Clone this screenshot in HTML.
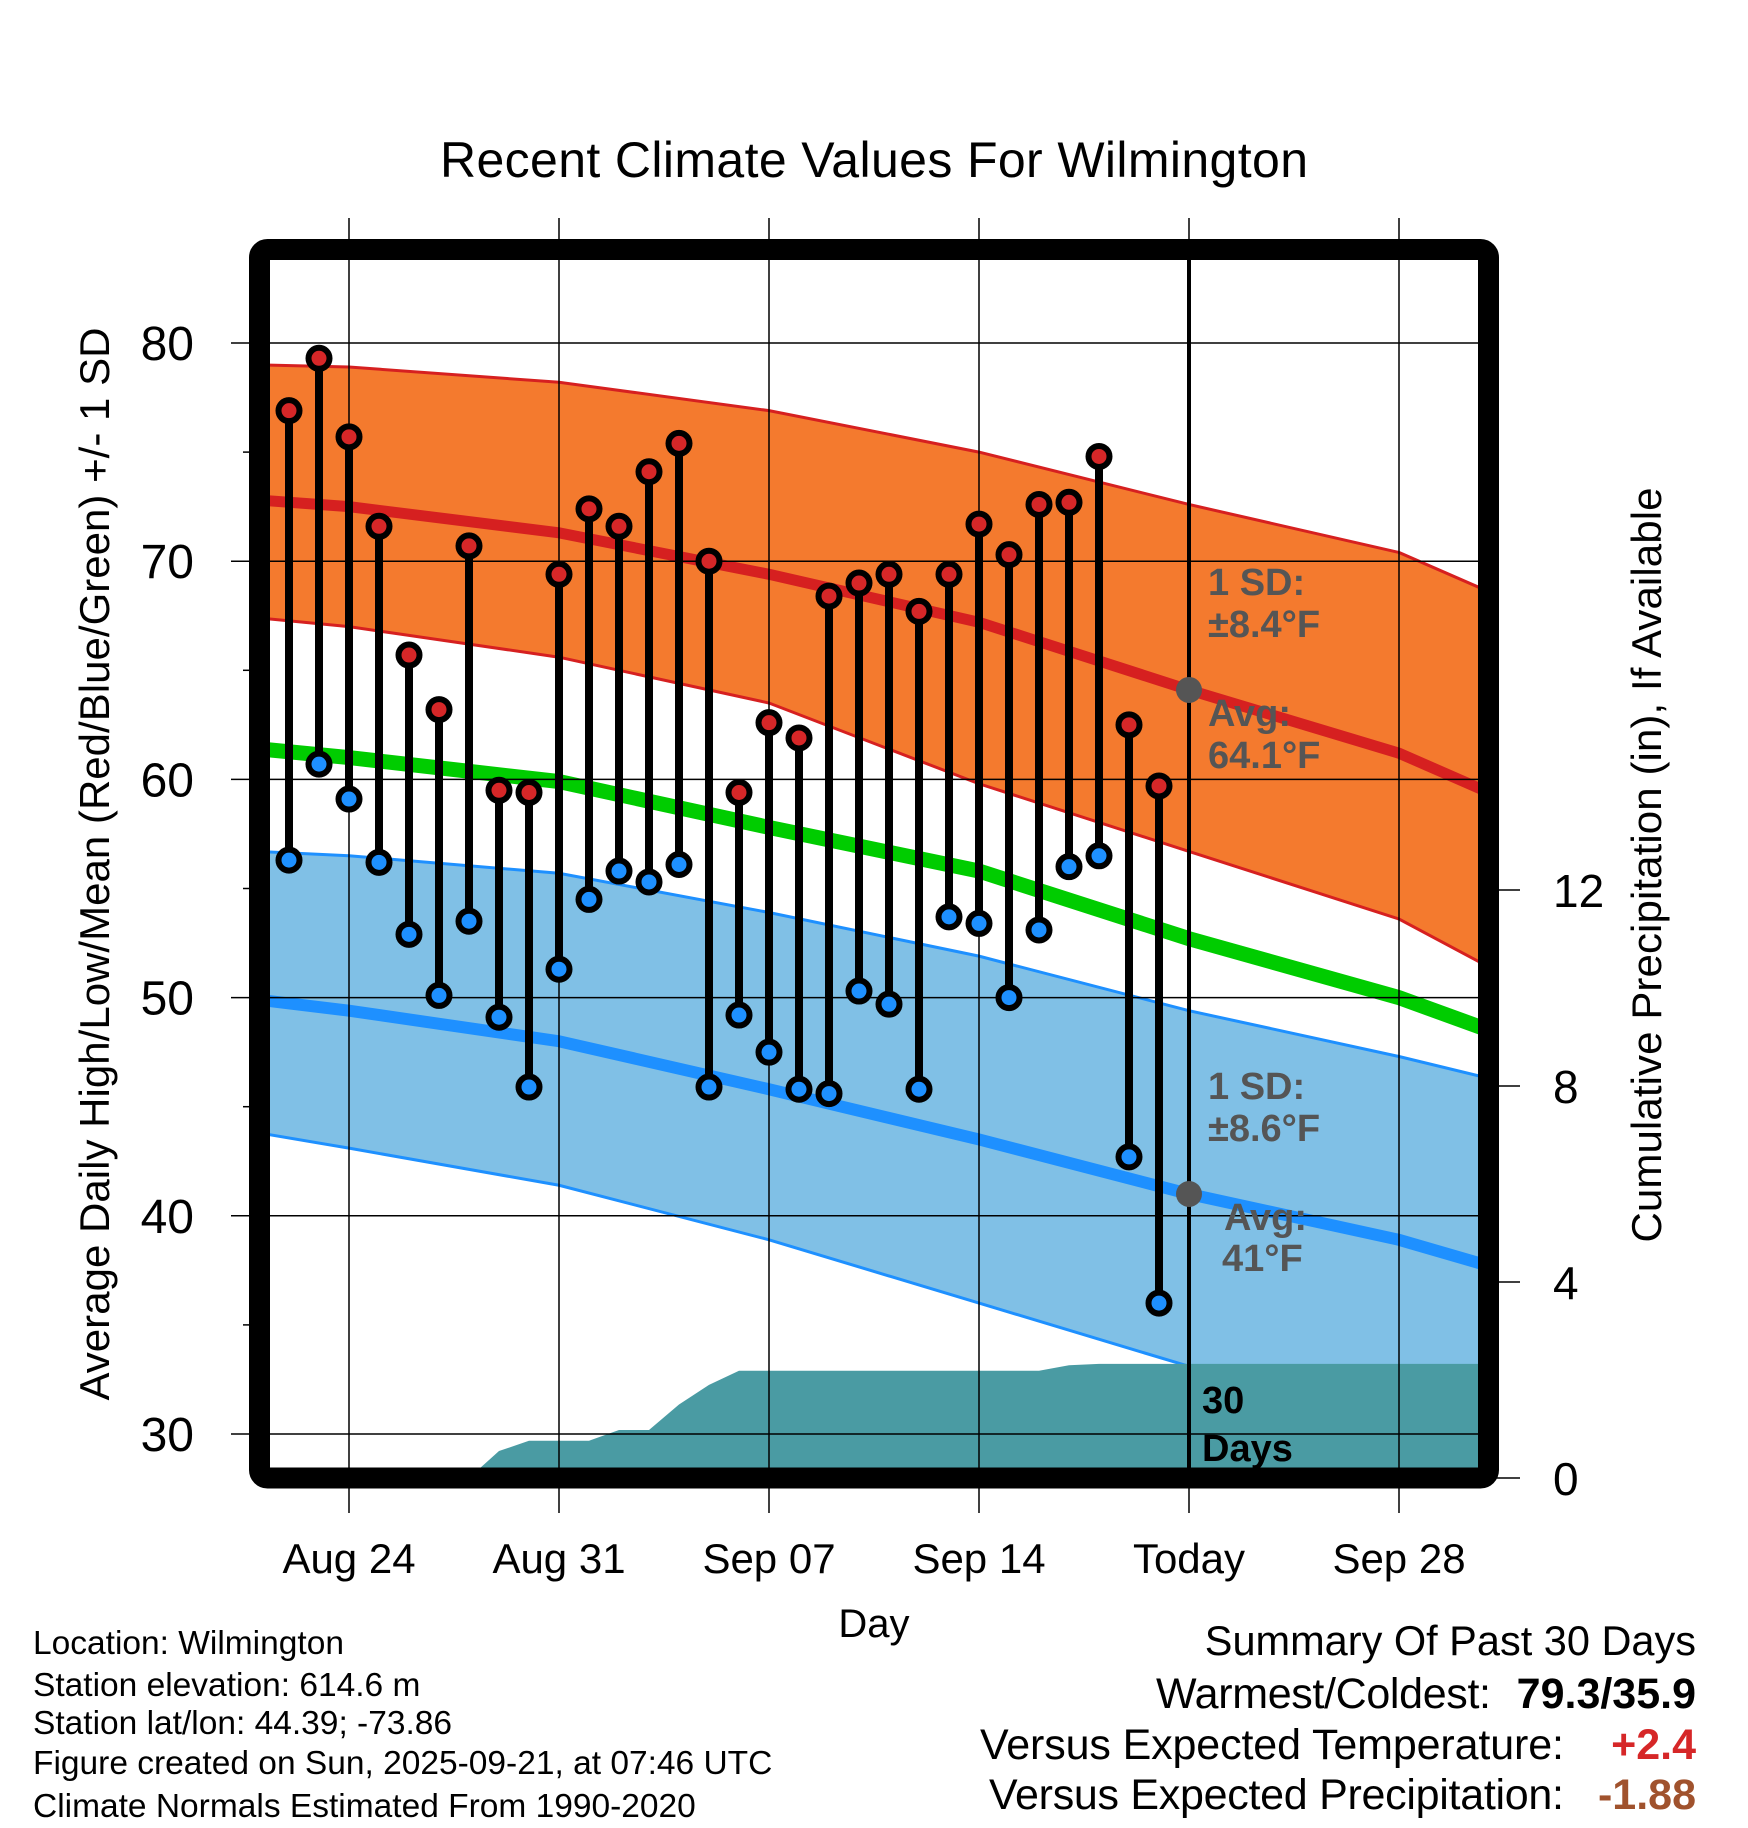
<!DOCTYPE html>
<html><head><meta charset="utf-8"><style>body{margin:0;background:#fff}svg{display:block}text{font-family:"Liberation Sans",sans-serif}</style></head>
<body>
<svg id="chart" width="1748" height="1828" viewBox="0 0 1748 1828" xmlns="http://www.w3.org/2000/svg">
<defs><clipPath id="inner"><rect x="270" y="260" width="1208" height="1208"/></clipPath></defs>
<text x="874" y="177" font-size="50" text-anchor="middle" textLength="868">Recent Climate Values For Wilmington</text>
<g id="plot" clip-path="url(#inner)"></g>
<g id="grid"></g>
<g id="marks"></g>
<rect x="259.5" y="249.5" width="1229" height="1228.5" rx="8" fill="none" stroke="#000" stroke-width="21"/>
<g id="axes"></g>
<text x="874" y="1637" font-size="40" text-anchor="middle">Day</text>
<text transform="translate(109,864) rotate(-90)" font-size="42" text-anchor="middle" textLength="1073">Average Daily High/Low/Mean (Red/Blue/Green) +/- 1 SD</text>
<text transform="translate(1661,865) rotate(-90)" font-size="42" text-anchor="middle" textLength="755">Cumulative Precipitation (in), If Available</text>
<g font-weight="bold" font-size="38" fill="#555">
<text x="1208" y="595">1 SD:</text>
<text x="1208" y="637">±8.4°F</text>
<text x="1208" y="726">Avg:</text>
<text x="1208" y="768">64.1°F</text>
<text x="1208" y="1099">1 SD:</text>
<text x="1208" y="1141">±8.6°F</text>
<text x="1224" y="1230">Avg:</text>
<text x="1222" y="1271">41°F</text>
<text x="1202" y="1413" fill="#000">30</text>
<text x="1202" y="1461" fill="#000">Days</text>
</g>
<g font-size="33.5">
<text x="33" y="1654">Location: Wilmington</text>
<text x="33" y="1696">Station elevation: 614.6 m</text>
<text x="33" y="1734">Station lat/lon: 44.39; -73.86</text>
<text x="33" y="1774">Figure created on Sun, 2025-09-21, at 07:46 UTC</text>
<text x="33" y="1817">Climate Normals Estimated From 1990-2020</text>
</g>
<g font-size="43" text-anchor="end">
<text x="1696" y="1655" font-size="41.5">Summary Of Past 30 Days</text>
<text x="1491" y="1708" textLength="335">Warmest/Coldest:</text>
<text x="1696" y="1708" font-weight="bold">79.3/35.9</text>
<text x="1564" y="1759" textLength="584">Versus Expected Temperature:</text>
<text x="1696" y="1759" font-weight="bold" fill="#d62728">+2.4</text>
<text x="1564" y="1809" textLength="575">Versus Expected Precipitation:</text>
<text x="1696" y="1809" font-weight="bold" fill="#a0522d">-1.88</text>
</g>
</svg>
<script>
// days are offsets from Aug 24
const normDays = [-3, 0, 7, 14, 21, 28, 35, 38];
const highUpper = [79.0, 78.9, 78.2, 76.9, 75.0, 72.6, 70.4, 68.6];
const highAvg = [72.8, 72.5, 71.3, 69.4, 67.2, 64.1, 61.2, 59.4];
const highLower = [67.4, 67.0, 65.6, 63.5, 59.8, 56.7, 53.6, 51.4];
const meanAvg = [61.4, 61.0, 59.9, 57.8, 55.8, 52.7, 50.0, 48.5];
const lowUpper = [56.7, 56.5, 55.7, 53.9, 51.9, 49.4, 47.3, 46.3];
const lowAvg = [49.9, 49.4, 48.0, 45.8, 43.5, 41.0, 38.9, 37.7];
const lowLower = [43.8, 43.1, 41.4, 38.9, 36.0, 33.1, 30.8, 29.5];
const obsStart = -2;
const highs = [76.9,79.3,75.7,71.6,65.7,63.2,70.7,59.5,59.4,69.4,72.4,71.6,74.1,75.4,70.0,59.4,62.6,61.9,68.4,69.0,69.4,67.7,69.4,71.7,70.3,72.6,72.7,74.8,62.5,59.7];
const lows = [56.3,60.7,59.1,56.2,52.9,50.1,53.5,49.1,45.9,51.3,54.5,55.8,55.3,56.1,45.9,49.2,47.5,45.8,45.6,50.3,49.7,45.8,53.7,53.4,50.0,53.1,56.0,56.5,42.7,36.0];
const precipDays = [4, 5, 6, 8, 9, 10, 11, 12, 13, 23, 24, 25, 38];
const precipVals = [0, 0.55, 0.76, 0.76, 0.98, 0.98, 1.5, 1.9, 2.19, 2.19, 2.3, 2.33, 2.33];
const xTickDays = [0, 7, 14, 21, 28, 35];
const xTickLabels = ["Aug 24", "Aug 31", "Sep 07", "Sep 14", "Today", "Sep 28"];
const yTicks = [30, 40, 50, 60, 70, 80];
const pTicks = [0, 4, 8, 12];
const todayDay = 28;

const NS = "http://www.w3.org/2000/svg";
const X = d => 349 + 30 * d;
const Y = v => 343 + (80 - v) * 21.82;
const P = p => 1478 - p * 49;
function mk(tag, attrs, parent) { const e = document.createElementNS(NS, tag); for (const k in attrs) e.setAttribute(k, attrs[k]); parent.appendChild(e); return e; }
const plot = document.getElementById('plot'), grid = document.getElementById('grid'), marks = document.getElementById('marks'), axes = document.getElementById('axes');
const line = arr => normDays.map((d, i) => `${X(d)},${Y(arr[i])}`).join(' L');
const band = (up, lo) => 'M' + line(up) + ' L' + normDays.map((d, i) => `${X(d)},${Y(lo[i])}`).reverse().join(' L') + 'Z';

let e;
e = mk('path', { d: band(highUpper, highLower), fill: '#f47a2e' }, plot);
 
e = mk('path', { d: band(lowUpper, lowLower), fill: '#80c0e6' }, plot);
 
[[highUpper, '#d62020', 3], [highLower, '#d62020', 3], [lowUpper, '#1e90ff', 3], [lowLower, '#1e90ff', 3], [highAvg, '#d62020', 11], [meanAvg, '#00cc00', 15], [lowAvg, '#1e90ff', 12]].forEach((s, i) => {
  const p = mk('path', { d: 'M' + line(s[0]), fill: 'none', stroke: s[1], 'stroke-width': s[2] }, plot);
  
  
});
const pd = 'M' + X(precipDays[0]) + ',1478 L' + precipDays.map((d, i) => `${X(d)},${P(precipVals[i])}`).join(' L') + ` L${X(38)},1478Z`;
e = mk('path', { d: pd, fill: '#4a9ba3' }, plot);
 

yTicks.forEach(v => {
  const l = mk('line', { x1: 231, x2: 1478, y1: Y(v), y2: Y(v), stroke: '#000', 'stroke-width': 1.5 }, grid);
  
  
  const t = mk('text', { x: 194, y: Y(v) + 17, 'font-size': 48, 'text-anchor': 'end' }, axes);
  t.textContent = v;
  
  
  if (v < 80) {
    const m = mk('line', { x1: 243, x2: 259, y1: Y(v + 5), y2: Y(v + 5), stroke: '#000', 'stroke-width': 1.5 }, grid);
    
    
  }
});
xTickDays.forEach((d, i) => {
  const l = mk('line', { x1: X(d), x2: X(d), y1: 218, y2: 1513, stroke: '#000', 'stroke-width': 1.5 }, grid);
  
  
  const t = mk('text', { x: X(d), y: 1573, 'font-size': 42, 'text-anchor': 'middle' }, axes);
  t.textContent = xTickLabels[i];
  
  
});
pTicks.forEach(p => {
  const l = mk('line', { x1: 1488, x2: 1520, y1: P(p), y2: P(p), stroke: '#000', 'stroke-width': 1.5 }, axes);
  
  
  const t = mk('text', { x: 1553, y: P(p) + 17, 'font-size': 46 }, axes);
  t.textContent = p;
  
  
});
e = mk('line', { x1: X(todayDay), x2: X(todayDay), y1: 249, y2: 1478, stroke: '#000', 'stroke-width': 4 }, grid);
 

highs.forEach((h, i) => {
  const x = X(obsStart + i);
  const s = mk('line', { x1: x, x2: x, y1: Y(h), y2: Y(lows[i]), stroke: '#000', 'stroke-width': 8 }, marks);
  
  
  const ch = mk('circle', { cx: x, cy: Y(h), r: 10.5, fill: '#d62728', stroke: '#000', 'stroke-width': 6 }, marks);
  
  
  const cl = mk('circle', { cx: x, cy: Y(lows[i]), r: 10.5, fill: '#1e90ff', stroke: '#000', 'stroke-width': 6 }, marks);
  
  
});
const ti = normDays.indexOf(todayDay);
[highAvg[ti], lowAvg[ti]].forEach(v => {
  const c = mk('circle', { cx: X(todayDay), cy: Y(v), r: 13, fill: '#555' }, marks);
  
  
});
</script>
</body></html>
